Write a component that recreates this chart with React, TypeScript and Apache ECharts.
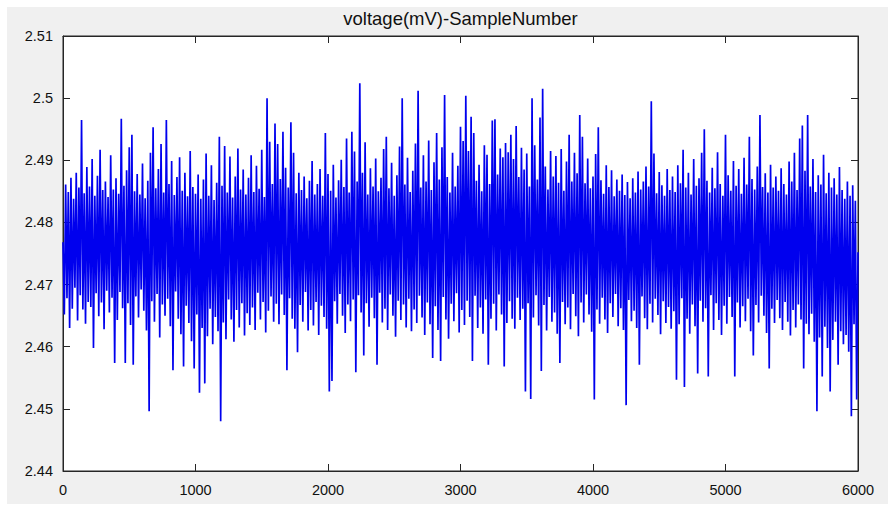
import React, { useEffect, useRef } from "react";
import * as echarts from "echarts";

const TITLE = "voltage(mV)-SampleNumber";
const X_MIN = 0;
const X_MAX = 6000;
const X_STEP = 1000;
const Y_MIN = 2.44;
const Y_MAX = 2.51;
const Y_STEP = 0.01;
const SAMPLE_STEP = 10; // sample number between consecutive stored readings

// voltage (mV) readings, one every SAMPLE_STEP samples
const VOLTAGE = [
  2.4768, 2.4652, 2.4861, 2.4678, 2.4849, 2.4630, 2.4872, 2.4661, 2.4838, 2.4695, 2.4880, 2.4642, 2.4856, 2.4683, 2.4965, 2.4660, 2.4847, 2.4637, 2.4889, 2.4672,
  2.4858, 2.4664, 2.4902, 2.4598, 2.4843, 2.4686, 2.4875, 2.4649, 2.4917, 2.4671, 2.4852, 2.4628, 2.4866, 2.4690, 2.4841, 2.4655, 2.4908, 2.4679, 2.4853, 2.4574,
  2.4871, 2.4643, 2.4846, 2.4688, 2.4967, 2.4662, 2.4859, 2.4574, 2.4884, 2.4670, 2.4921, 2.4635, 2.4941, 2.4571, 2.4850, 2.4681, 2.4878, 2.4647, 2.4845, 2.4692,
  2.4895, 2.4658, 2.4839, 2.4626, 2.4867, 2.4496, 2.4912, 2.4673, 2.4953, 2.4640, 2.4855, 2.4685, 2.4886, 2.4615, 2.4926, 2.4668, 2.4848, 2.4650, 2.4965, 2.4677,
  2.4862, 2.4633, 2.4899, 2.4562, 2.4844, 2.4689, 2.4873, 2.4645, 2.4905, 2.4620, 2.4851, 2.4568, 2.4880, 2.4666, 2.4842, 2.4638, 2.4915, 2.4609, 2.4857, 2.4565,
  2.4846, 2.4652, 2.4877, 2.4526, 2.4838, 2.4630, 2.4869, 2.4541, 2.4911, 2.4617, 2.4843, 2.4661, 2.4892, 2.4604, 2.4836, 2.4648, 2.4864, 2.4625, 2.4938, 2.4480,
  2.4859, 2.4639, 2.4923, 2.4612, 2.4848, 2.4676, 2.4906, 2.4644, 2.4840, 2.4608, 2.4874, 2.4659, 2.4919, 2.4631, 2.4853, 2.4670, 2.4885, 2.4618, 2.4845, 2.4654,
  2.4872, 2.4635, 2.4908, 2.4663, 2.4849, 2.4627, 2.4891, 2.4687, 2.4854, 2.4644, 2.4917, 2.4672, 2.4841, 2.4623, 2.5000, 2.4658, 2.4930, 2.4681, 2.4862, 2.4640,
  2.4959, 2.4669, 2.4926, 2.4636, 2.4870, 2.4684, 2.4946, 2.4651, 2.4888, 2.4562, 2.4856, 2.4678, 2.4961, 2.4645, 2.4912, 2.4629, 2.4847, 2.4591, 2.4880, 2.4667,
  2.4852, 2.4640, 2.4874, 2.4688, 2.4839, 2.4626, 2.4867, 2.4659, 2.4899, 2.4634, 2.4845, 2.4672, 2.4862, 2.4619, 2.4886, 2.4666, 2.4843, 2.4648, 2.4944, 2.4629,
  2.4878, 2.4528, 2.4851, 2.4545, 2.4893, 2.4673, 2.4840, 2.4637, 2.4868, 2.4685, 2.4901, 2.4650, 2.4857, 2.4622, 2.4935, 2.4668, 2.4848, 2.4641, 2.4946, 2.4676,
  2.4914, 2.4559, 2.4866, 2.4683, 2.5024, 2.4655, 2.4880, 2.4586, 2.4929, 2.4670, 2.4845, 2.4632, 2.4887, 2.4679, 2.4858, 2.4646, 2.4903, 2.4571, 2.4850, 2.4687,
  2.4872, 2.4639, 2.4918, 2.4661, 2.4938, 2.4627, 2.4855, 2.4684, 2.4896, 2.4650, 2.4843, 2.4616, 2.4876, 2.4674, 2.4922, 2.4643, 2.5000, 2.4668, 2.4861, 2.4631,
  2.4904, 2.4677, 2.4849, 2.4625, 2.4883, 2.4660, 2.4927, 2.4638, 2.5012, 2.4682, 2.4856, 2.4647, 2.4908, 2.4619, 2.4866, 2.4671, 2.4932, 2.4636, 2.4852, 2.4582,
  2.4897, 2.4665, 2.4944, 2.4627, 2.4869, 2.4577, 2.4921, 2.4680, 2.5005, 2.4644, 2.4873, 2.4613, 2.4848, 2.4669, 2.4912, 2.4641, 2.4858, 2.4686, 2.4891, 2.4623,
  2.4954, 2.4659, 2.4931, 2.4635, 2.5004, 2.4674, 2.4915, 2.4648, 2.4970, 2.4577, 2.4944, 2.4682, 2.4867, 2.4630, 2.4893, 2.4663, 2.4850, 2.4621, 2.4924, 2.4676,
  2.4909, 2.4571, 2.4862, 2.4645, 2.4964, 2.4669, 2.4966, 2.4626, 2.4877, 2.4684, 2.4919, 2.4652, 2.4905, 2.4568, 2.4928, 2.4638, 2.4913, 2.4673, 2.4941, 2.4645,
  2.4902, 2.4629, 2.4955, 2.4679, 2.4873, 2.4643, 2.4920, 2.4661, 2.4885, 2.4528, 2.4911, 2.4670, 2.4858, 2.4516, 2.5000, 2.4647, 2.4924, 2.4683, 2.4869, 2.4634,
  2.4969, 2.4561, 2.5015, 2.4667, 2.4890, 2.4626, 2.4853, 2.4680, 2.4915, 2.4640, 2.4874, 2.4655, 2.4907, 2.4621, 2.4864, 2.4574, 2.4918, 2.4672, 2.4851, 2.4636,
  2.4898, 2.4663, 2.4941, 2.4628, 2.4866, 2.4685, 2.4912, 2.4649, 2.4879, 2.4617, 2.4973, 2.4671, 2.4938, 2.4639, 2.4863, 2.4684, 2.4903, 2.4652, 2.4855, 2.4624,
  2.4874, 2.4515, 2.4910, 2.4660, 2.4953, 2.4637, 2.4868, 2.4679, 2.4846, 2.4644, 2.4892, 2.4622, 2.4857, 2.4670, 2.4884, 2.4648, 2.4842, 2.4685, 2.4869, 2.4633,
  2.4851, 2.4662, 2.4877, 2.4627, 2.4844, 2.4506, 2.4865, 2.4675, 2.4839, 2.4641, 2.4871, 2.4658, 2.4848, 2.4630, 2.4882, 2.4571, 2.4853, 2.4681, 2.4866, 2.4646,
  2.4890, 2.4628, 2.4858, 2.4669, 2.4995, 2.4639, 2.4911, 2.4677, 2.4847, 2.4651, 2.4881, 2.4620, 2.4860, 2.4673, 2.4843, 2.4638, 2.4886, 2.4664, 2.4852, 2.4629,
  2.4874, 2.4657, 2.4849, 2.4547, 2.4892, 2.4636, 2.4863, 2.4678, 2.4917, 2.4535, 2.4856, 2.4645, 2.4880, 2.4621, 2.4845, 2.4668, 2.4902, 2.4633, 2.4859, 2.4557,
  2.4871, 2.4674, 2.4912, 2.4640, 2.4950, 2.4662, 2.4867, 2.4552, 2.4848, 2.4683, 2.4888, 2.4627, 2.4855, 2.4670, 2.4913, 2.4643, 2.4862, 2.4619, 2.4843, 2.4666,
  2.4941, 2.4637, 2.4876, 2.4680, 2.4851, 2.4648, 2.4899, 2.4552, 2.4859, 2.4671, 2.4886, 2.4631, 2.4846, 2.4665, 2.4904, 2.4641, 2.4861, 2.4677, 2.4938, 2.4625,
  2.4870, 2.4586, 2.4853, 2.4667, 2.4890, 2.4639, 2.4973, 2.4682, 2.4857, 2.4650, 2.4879, 2.4622, 2.4848, 2.4565, 2.4893, 2.4661, 2.4856, 2.4638, 2.4874, 2.4675,
  2.4851, 2.4646, 2.4887, 2.4627, 2.4862, 2.4672, 2.4845, 2.4640, 2.4898, 2.4618, 2.4866, 2.4659, 2.4912, 2.4631, 2.4852, 2.4668, 2.4935, 2.4644, 2.4956, 2.4565,
  2.4883, 2.4637, 2.4973, 2.4620, 2.4858, 2.4653, 2.4902, 2.4608, 2.4849, 2.4496, 2.4876, 2.4615, 2.4861, 2.4552, 2.4909, 2.4632, 2.4847, 2.4598, 2.4880, 2.4528,
  2.4856, 2.4611, 2.4871, 2.4640, 2.4845, 2.4571, 2.4889, 2.4625, 2.4852, 2.4604, 2.4838, 2.4619, 2.4866, 2.4592, 2.4843, 2.4488, 2.4860, 2.4636, 2.4835, 2.4515,
  2.4752,
];

const FONT = "'Liberation Sans', Arial, Helvetica, sans-serif";
const INK = "#262626";

export default function App() {
  const ref = useRef<HTMLDivElement>(null);

  useEffect(() => {
    if (!ref.current) return;
    const chart = echarts.init(ref.current, undefined, { renderer: "svg" });
    const data = VOLTAGE.map((v, i) => [i * SAMPLE_STEP, v]);
    const tick = { inside: true, length: 7, lineStyle: { color: INK, width: 1 } };
    const line = { show: true, onZero: false, lineStyle: { color: INK, width: 1 } };
    const label = { fontSize: 14.5, color: "#111", fontFamily: FONT };
    chart.setOption({
      animation: false,
      title: {
        text: TITLE,
        left: 460.5,
        top: 9,
        padding: 0,
        textAlign: "center",
        textStyle: { fontSize: 18.5, fontWeight: "normal", color: "#111", fontFamily: FONT },
      },
      grid: {
        left: 63,
        right: 30,
        top: 36,
        bottom: 34,
        show: true,
        backgroundColor: "#ffffff",
        borderColor: INK,
        borderWidth: 1,
      },
      xAxis: [
        {
          type: "value",
          position: "bottom",
          min: X_MIN,
          max: X_MAX,
          interval: X_STEP,
          axisLine: line,
          axisTick: tick,
          axisLabel: { ...label, margin: 11, formatter: (v: number) => String(v) },
          splitLine: { show: false },
        },
        {
          type: "value",
          position: "top",
          min: X_MIN,
          max: X_MAX,
          interval: X_STEP,
          axisLine: line,
          axisTick: tick,
          axisLabel: { show: false },
          splitLine: { show: false },
        },
      ],
      yAxis: [
        {
          type: "value",
          position: "left",
          min: Y_MIN,
          max: Y_MAX,
          interval: Y_STEP,
          axisLine: line,
          axisTick: tick,
          axisLabel: {
            ...label,
            margin: 10,
            formatter: (v: number) => String(+v.toFixed(2)),
          },
          splitLine: { show: false },
        },
        {
          type: "value",
          position: "right",
          min: Y_MIN,
          max: Y_MAX,
          interval: Y_STEP,
          axisLine: line,
          axisTick: tick,
          axisLabel: { show: false },
          splitLine: { show: false },
        },
      ],
      series: [
        {
          type: "line",
          xAxisIndex: 0,
          yAxisIndex: 0,
          data,
          symbol: "none",
          showSymbol: false,
          silent: true,
          clip: true,
          lineStyle: { color: "#0000ee", width: 1.7 },
        },
      ],
    });
    return () => chart.dispose();
  }, []);

  return (
    <div style={{ position: "fixed", left: 0, top: 0, width: 888, height: 505, background: "#ffffff" }}>
      <div style={{ position: "absolute", left: 7, top: 7, width: 881, height: 497, background: "#f0f0f0" }} />
      <div ref={ref} style={{ position: "absolute", left: 0, top: 0, width: 888, height: 505 }} />
    </div>
  );
}
